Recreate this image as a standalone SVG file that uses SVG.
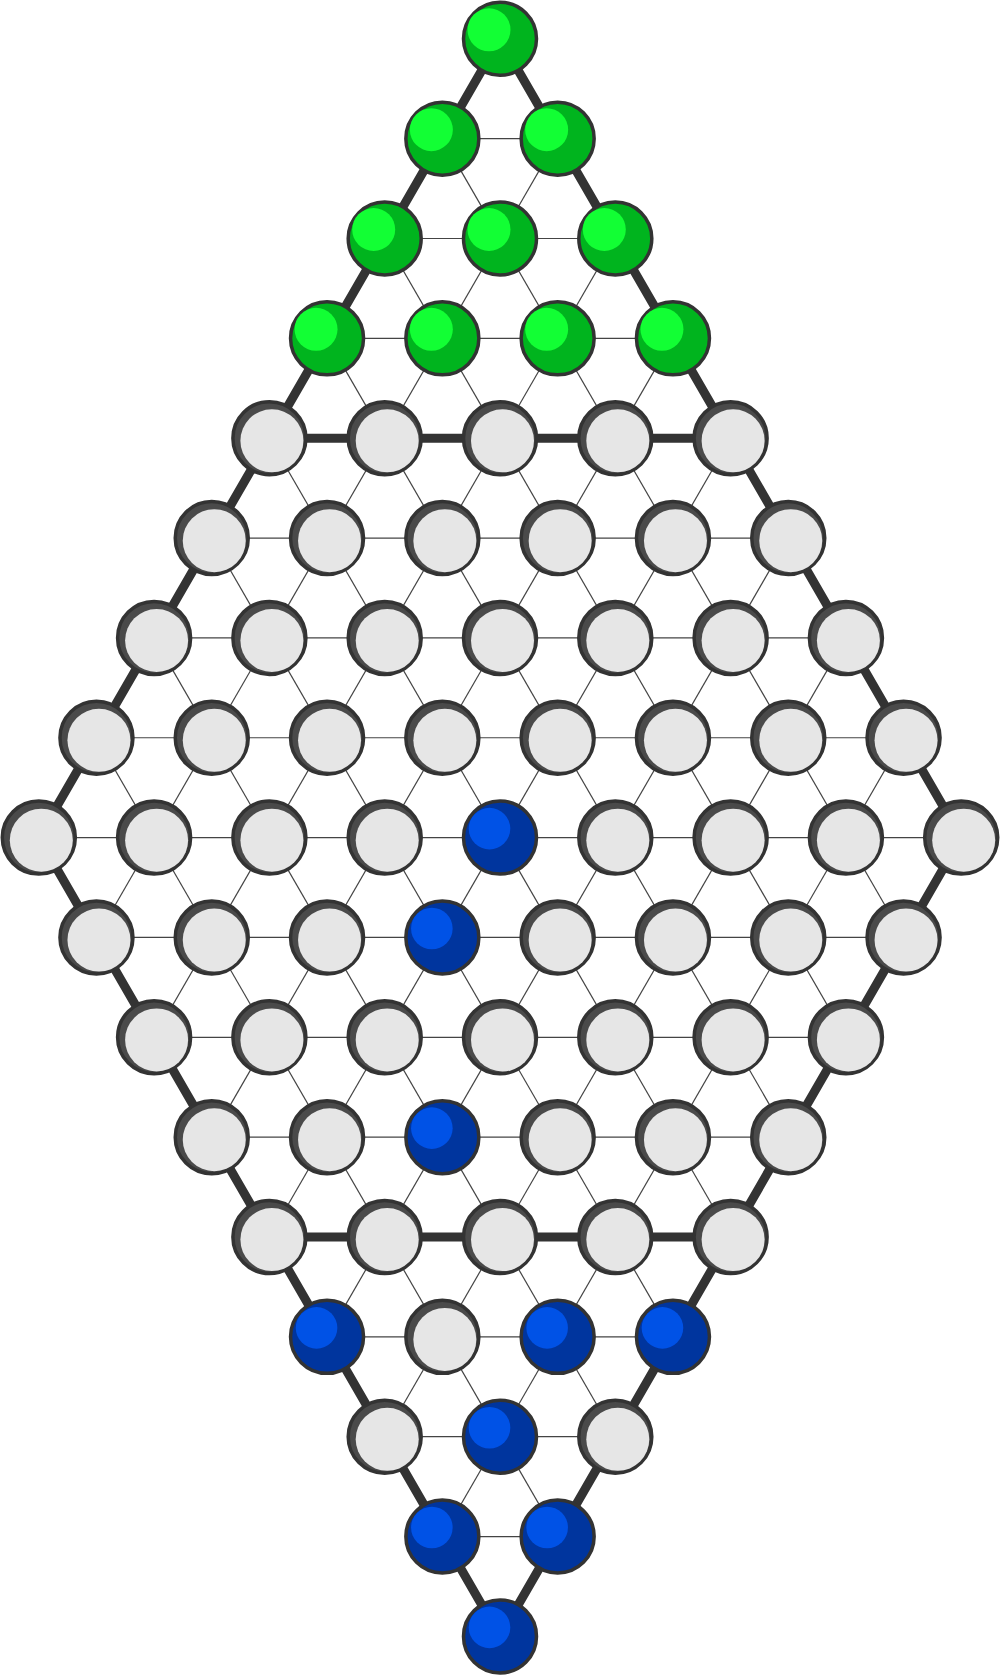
<svg xmlns="http://www.w3.org/2000/svg" xmlns:xlink="http://www.w3.org/1999/xlink" width="1000" height="1675" viewBox="0 0 1000 1675">
<style>
.thin{stroke:#444;stroke-width:1.2;fill:none}
.thick{stroke:#333;stroke-width:9;fill:none;stroke-linecap:round}
.ring{fill:#4a4a4a;stroke:#333;stroke-width:3.5}
.hole{fill:#e6e6e6}
.gb{fill:#00b41e;stroke:#333;stroke-width:3.5}
.gh{fill:#12ff34}
.bb{fill:#00359e;stroke:#333;stroke-width:3.5}
.bh{fill:#0052e6}
</style>
<defs>
<g id="gray"><circle class="ring" r="36.5"/><circle class="hole" cx="2.5" cy="2.6" r="31.5"/></g>
<g id="green"><circle class="gb" r="36.5"/><circle class="gh" cx="-11" cy="-9" r="21.5"/></g>
<g id="blue"><circle class="bb" r="36.5"/><circle class="bh" cx="-10.5" cy="-9" r="20.8"/></g>
</defs>
<rect width="1000" height="1675" fill="#fff"/>
<g id="connectors">
<g class="thin">
<line x1="442.35" y1="138.65" x2="903.55" y2="937.45"/>
<line x1="384.7" y1="238.5" x2="845.9" y2="1037.3"/>
<line x1="327.05" y1="338.35" x2="788.25" y2="1137.15"/>
<line x1="269.4" y1="438.2" x2="730.6" y2="1237"/>
<line x1="211.75" y1="538.05" x2="672.95" y2="1336.85"/>
<line x1="154.1" y1="637.9" x2="615.3" y2="1436.7"/>
<line x1="96.45" y1="737.75" x2="557.65" y2="1536.55"/>
<line x1="557.65" y1="138.65" x2="96.45" y2="937.45"/>
<line x1="615.3" y1="238.5" x2="154.1" y2="1037.3"/>
<line x1="672.95" y1="338.35" x2="211.75" y2="1137.15"/>
<line x1="730.6" y1="438.2" x2="269.4" y2="1237"/>
<line x1="788.25" y1="538.05" x2="327.05" y2="1336.85"/>
<line x1="845.9" y1="637.9" x2="384.7" y2="1436.7"/>
<line x1="903.55" y1="737.75" x2="442.35" y2="1536.55"/>
<line x1="442.35" y1="138.65" x2="557.65" y2="138.65"/>
<line x1="384.7" y1="238.5" x2="615.3" y2="238.5"/>
<line x1="327.05" y1="338.35" x2="672.95" y2="338.35"/>
<line x1="211.75" y1="538.05" x2="788.25" y2="538.05"/>
<line x1="154.1" y1="637.9" x2="845.9" y2="637.9"/>
<line x1="96.45" y1="737.75" x2="903.55" y2="737.75"/>
<line x1="38.8" y1="837.6" x2="961.2" y2="837.6"/>
<line x1="96.45" y1="937.45" x2="903.55" y2="937.45"/>
<line x1="154.1" y1="1037.3" x2="845.9" y2="1037.3"/>
<line x1="211.75" y1="1137.15" x2="788.25" y2="1137.15"/>
<line x1="327.05" y1="1336.85" x2="672.95" y2="1336.85"/>
<line x1="384.7" y1="1436.7" x2="615.3" y2="1436.7"/>
<line x1="442.35" y1="1536.55" x2="557.65" y2="1536.55"/>
</g>
<g class="thick">
<polygon points="500,38.8 961.2,837.6 500,1636.4 38.8,837.6"/>
<line x1="269.4" y1="438.2" x2="730.6" y2="438.2"/>
<line x1="269.4" y1="1237" x2="730.6" y2="1237"/>
</g>
</g>
<g id="nodes">
<g id="n0_0" transform="translate(500,38.8)"><use xlink:href="#green"/></g>
<g id="n1_0" transform="translate(442.35,138.65)"><use xlink:href="#green"/></g>
<g id="n1_1" transform="translate(557.65,138.65)"><use xlink:href="#green"/></g>
<g id="n2_0" transform="translate(384.7,238.5)"><use xlink:href="#green"/></g>
<g id="n2_1" transform="translate(500,238.5)"><use xlink:href="#green"/></g>
<g id="n2_2" transform="translate(615.3,238.5)"><use xlink:href="#green"/></g>
<g id="n3_0" transform="translate(327.05,338.35)"><use xlink:href="#green"/></g>
<g id="n3_1" transform="translate(442.35,338.35)"><use xlink:href="#green"/></g>
<g id="n3_2" transform="translate(557.65,338.35)"><use xlink:href="#green"/></g>
<g id="n3_3" transform="translate(672.95,338.35)"><use xlink:href="#green"/></g>
<g id="n4_0" transform="translate(269.4,438.2)"><use xlink:href="#gray"/></g>
<g id="n4_1" transform="translate(384.7,438.2)"><use xlink:href="#gray"/></g>
<g id="n4_2" transform="translate(500,438.2)"><use xlink:href="#gray"/></g>
<g id="n4_3" transform="translate(615.3,438.2)"><use xlink:href="#gray"/></g>
<g id="n4_4" transform="translate(730.6,438.2)"><use xlink:href="#gray"/></g>
<g id="n5_0" transform="translate(211.75,538.05)"><use xlink:href="#gray"/></g>
<g id="n5_1" transform="translate(327.05,538.05)"><use xlink:href="#gray"/></g>
<g id="n5_2" transform="translate(442.35,538.05)"><use xlink:href="#gray"/></g>
<g id="n5_3" transform="translate(557.65,538.05)"><use xlink:href="#gray"/></g>
<g id="n5_4" transform="translate(672.95,538.05)"><use xlink:href="#gray"/></g>
<g id="n5_5" transform="translate(788.25,538.05)"><use xlink:href="#gray"/></g>
<g id="n6_0" transform="translate(154.1,637.9)"><use xlink:href="#gray"/></g>
<g id="n6_1" transform="translate(269.4,637.9)"><use xlink:href="#gray"/></g>
<g id="n6_2" transform="translate(384.7,637.9)"><use xlink:href="#gray"/></g>
<g id="n6_3" transform="translate(500,637.9)"><use xlink:href="#gray"/></g>
<g id="n6_4" transform="translate(615.3,637.9)"><use xlink:href="#gray"/></g>
<g id="n6_5" transform="translate(730.6,637.9)"><use xlink:href="#gray"/></g>
<g id="n6_6" transform="translate(845.9,637.9)"><use xlink:href="#gray"/></g>
<g id="n7_0" transform="translate(96.45,737.75)"><use xlink:href="#gray"/></g>
<g id="n7_1" transform="translate(211.75,737.75)"><use xlink:href="#gray"/></g>
<g id="n7_2" transform="translate(327.05,737.75)"><use xlink:href="#gray"/></g>
<g id="n7_3" transform="translate(442.35,737.75)"><use xlink:href="#gray"/></g>
<g id="n7_4" transform="translate(557.65,737.75)"><use xlink:href="#gray"/></g>
<g id="n7_5" transform="translate(672.95,737.75)"><use xlink:href="#gray"/></g>
<g id="n7_6" transform="translate(788.25,737.75)"><use xlink:href="#gray"/></g>
<g id="n7_7" transform="translate(903.55,737.75)"><use xlink:href="#gray"/></g>
<g id="n8_0" transform="translate(38.8,837.6)"><use xlink:href="#gray"/></g>
<g id="n8_1" transform="translate(154.1,837.6)"><use xlink:href="#gray"/></g>
<g id="n8_2" transform="translate(269.4,837.6)"><use xlink:href="#gray"/></g>
<g id="n8_3" transform="translate(384.7,837.6)"><use xlink:href="#gray"/></g>
<g id="n8_4" transform="translate(500,837.6)"><use xlink:href="#blue"/></g>
<g id="n8_5" transform="translate(615.3,837.6)"><use xlink:href="#gray"/></g>
<g id="n8_6" transform="translate(730.6,837.6)"><use xlink:href="#gray"/></g>
<g id="n8_7" transform="translate(845.9,837.6)"><use xlink:href="#gray"/></g>
<g id="n8_8" transform="translate(961.2,837.6)"><use xlink:href="#gray"/></g>
<g id="n9_0" transform="translate(96.45,937.45)"><use xlink:href="#gray"/></g>
<g id="n9_1" transform="translate(211.75,937.45)"><use xlink:href="#gray"/></g>
<g id="n9_2" transform="translate(327.05,937.45)"><use xlink:href="#gray"/></g>
<g id="n9_3" transform="translate(442.35,937.45)"><use xlink:href="#blue"/></g>
<g id="n9_4" transform="translate(557.65,937.45)"><use xlink:href="#gray"/></g>
<g id="n9_5" transform="translate(672.95,937.45)"><use xlink:href="#gray"/></g>
<g id="n9_6" transform="translate(788.25,937.45)"><use xlink:href="#gray"/></g>
<g id="n9_7" transform="translate(903.55,937.45)"><use xlink:href="#gray"/></g>
<g id="n10_0" transform="translate(154.1,1037.3)"><use xlink:href="#gray"/></g>
<g id="n10_1" transform="translate(269.4,1037.3)"><use xlink:href="#gray"/></g>
<g id="n10_2" transform="translate(384.7,1037.3)"><use xlink:href="#gray"/></g>
<g id="n10_3" transform="translate(500,1037.3)"><use xlink:href="#gray"/></g>
<g id="n10_4" transform="translate(615.3,1037.3)"><use xlink:href="#gray"/></g>
<g id="n10_5" transform="translate(730.6,1037.3)"><use xlink:href="#gray"/></g>
<g id="n10_6" transform="translate(845.9,1037.3)"><use xlink:href="#gray"/></g>
<g id="n11_0" transform="translate(211.75,1137.15)"><use xlink:href="#gray"/></g>
<g id="n11_1" transform="translate(327.05,1137.15)"><use xlink:href="#gray"/></g>
<g id="n11_2" transform="translate(442.35,1137.15)"><use xlink:href="#blue"/></g>
<g id="n11_3" transform="translate(557.65,1137.15)"><use xlink:href="#gray"/></g>
<g id="n11_4" transform="translate(672.95,1137.15)"><use xlink:href="#gray"/></g>
<g id="n11_5" transform="translate(788.25,1137.15)"><use xlink:href="#gray"/></g>
<g id="n12_0" transform="translate(269.4,1237)"><use xlink:href="#gray"/></g>
<g id="n12_1" transform="translate(384.7,1237)"><use xlink:href="#gray"/></g>
<g id="n12_2" transform="translate(500,1237)"><use xlink:href="#gray"/></g>
<g id="n12_3" transform="translate(615.3,1237)"><use xlink:href="#gray"/></g>
<g id="n12_4" transform="translate(730.6,1237)"><use xlink:href="#gray"/></g>
<g id="n13_0" transform="translate(327.05,1336.85)"><use xlink:href="#blue"/></g>
<g id="n13_1" transform="translate(442.35,1336.85)"><use xlink:href="#gray"/></g>
<g id="n13_2" transform="translate(557.65,1336.85)"><use xlink:href="#blue"/></g>
<g id="n13_3" transform="translate(672.95,1336.85)"><use xlink:href="#blue"/></g>
<g id="n14_0" transform="translate(384.7,1436.7)"><use xlink:href="#gray"/></g>
<g id="n14_1" transform="translate(500,1436.7)"><use xlink:href="#blue"/></g>
<g id="n14_2" transform="translate(615.3,1436.7)"><use xlink:href="#gray"/></g>
<g id="n15_0" transform="translate(442.35,1536.55)"><use xlink:href="#blue"/></g>
<g id="n15_1" transform="translate(557.65,1536.55)"><use xlink:href="#blue"/></g>
<g id="n16_0" transform="translate(500,1636.4)"><use xlink:href="#blue"/></g>
</g>
</svg>
